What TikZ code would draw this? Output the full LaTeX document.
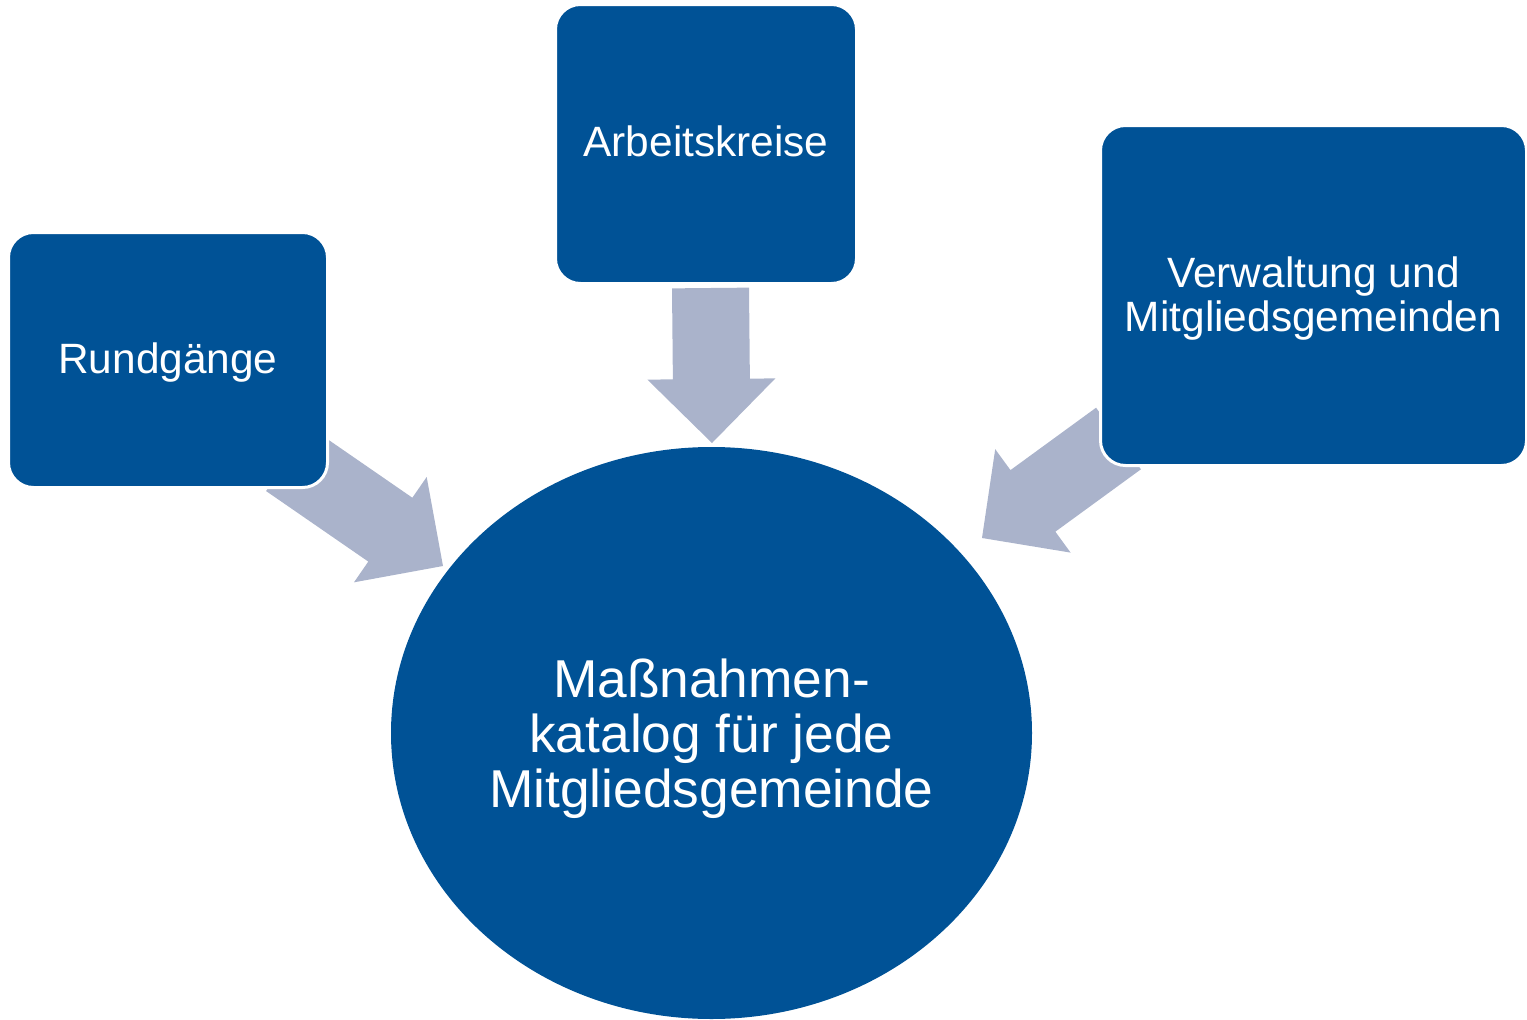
\documentclass[tikz,border=0pt]{standalone}
\usepackage{fontspec}
\setmainfont{Liberation Sans}
\usetikzlibrary{calc}
\definecolor{boxblue}{RGB}{0,82,150}
\definecolor{arrowgray}{RGB}{170,179,203}
\newcommand{\blkarrow}[5]{%
  \coordinate (#1base) at ($(#2)!#5!(#1)$);
  \fill[arrowgray]
    ($(#1)!#3!90:(#2)$) -- ($(#1base)!#3!90:(#2)$) -- ($(#1base)!#4!90:(#2)$) --
    (#2) --
    ($(#1base)!#4!-90:(#2)$) -- ($(#1base)!#3!-90:(#2)$) -- ($(#1)!#3!-90:(#2)$) -- cycle;
}
\tikzset{
  bluebox/.style={rectangle, rounded corners=25pt, fill=boxblue, draw=white, line width=3pt, inner sep=0pt},
  boxtext/.style={text=white, align=center, font=\fontsize{42.4}{44}\selectfont, inner sep=0pt},
  bigtext/.style={text=white, align=center, font=\fontsize{53.3}{55}\selectfont, inner sep=0pt},
}
\begin{document}
\begin{tikzpicture}[x=1pt,y=-1pt]
\useasboundingbox (0,0) rectangle (1527,1020);
% arrows
\coordinate (sT) at (710.5,288);
\coordinate (tT) at (712,443);
\coordinate (sL) at (288.1,459.1);
\coordinate (tL) at (443,566);
\coordinate (sR) at (1118.5,438.5);
\coordinate (tR) at (982,538);
\blkarrow{sT}{tT}{38.5pt}{64pt}{64pt}
\blkarrow{sL}{tL}{38.8pt}{64pt}{64pt}
\blkarrow{sR}{tR}{38.1pt}{64pt}{63pt}
% boxes
\node[bluebox, minimum width=319pt, minimum height=255pt] (rund) at (168,360) {};
\node[bluebox, minimum width=301pt, minimum height=279pt] (arb) at (706,144) {};
\node[bluebox, minimum width=426pt, minimum height=340pt] (verw) at (1313.5,295.5) {};
\node[boxtext, yshift=-3pt] (rundtxt) at (rund.center) {Rundgänge};
\node[boxtext, yshift=3pt] (arbtxt) at (arb.center) {Arbeitskreise};
\node[boxtext, yshift=-3pt] (verwtxt) at (verw.center) {Verwaltung und\\Mitgliedsgemeinden};
% ellipse
\fill[boxblue] (711.5,733) ellipse [x radius=320.5, y radius=286];
\coordinate (ellc) at (711.5,735);
\node[bigtext, yshift=-4pt] (mass) at (ellc) {Maßnahmen-\\katalog für jede\\Mitgliedsgemeinde};
\end{tikzpicture}
\end{document}
